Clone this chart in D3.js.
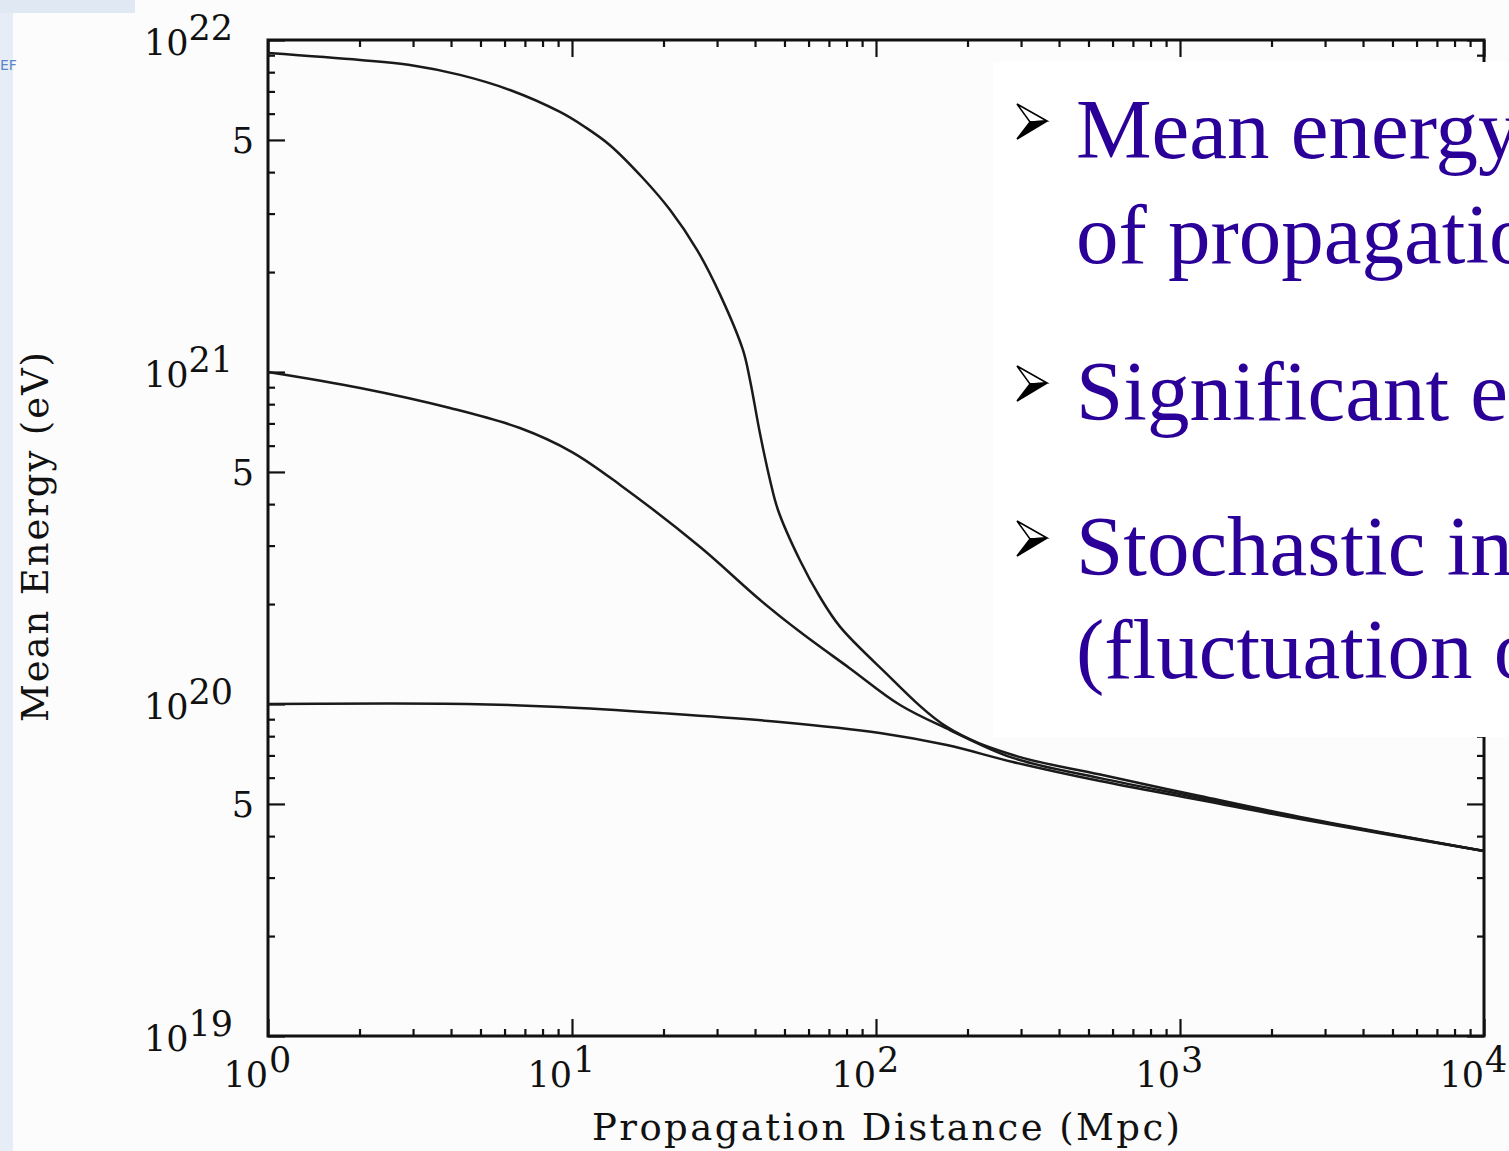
<!DOCTYPE html>
<html>
<head>
<meta charset="utf-8">
<script src="https://cdn.jsdelivr.net/npm/d3@7"></script>
<style>
  body { margin: 0; background: #fcfcfc; }
  svg { display: block; }
</style>
</head>
<body>
<div id="plot"></div>
<script>
// values: propagation distance (Mpc) -> mean energy (eV)
const distTop   = [1, 2.01, 2.93, 4.28, 6.25, 9.13, 11.03, 13.3, 17.1, 21.0, 25.8, 30.7, 36.5, 38.5, 41.5, 44.8, 47.6, 56.2, 65.4, 76.1, 103, 171, 282, 546, 1163, 2481, 10000];
const energyTop = [9.14e21, 8.71e21, 8.41e21, 7.85e21, 7.07e21, 6.07e21, 5.47e21, 4.83e21, 3.84e21, 3.08e21, 2.33e21, 1.71e21, 1.165e21, 9.46e20, 6.55e20, 4.73e20, 3.84e20, 2.71e20, 2.10e20, 1.71e20, 1.29e20, 8.53e19, 7.02e19, 6.13e19, 5.28e19, 4.57e19, 3.61e19];

const distMid   = [1, 2.01, 3.97, 6.74, 10, 14.4, 26.4, 41.5, 56.2, 82.1, 120, 175, 282, 546, 1163, 2481, 10000];
const energyMid = [1.0e21, 8.95e20, 7.79e20, 6.78e20, 5.74e20, 4.57e20, 2.97e20, 2.06e20, 1.65e20, 1.28e20, 9.93e19, 8.35e19, 6.88e19, 5.98e19, 5.21e19, 4.54e19, 3.61e19];

const distLow   = [1, 4.51, 9.13, 19.5, 48.3, 103, 171, 282, 546, 1163, 2481, 10000];
const energyLow = [1.0e20, 1.0e20, 9.79e19, 9.39e19, 8.83e19, 8.18e19, 7.52e19, 6.69e19, 5.86e19, 5.14e19, 4.50e19, 3.61e19];

// axis labels
const xDecades = [1, 10, 100, 1000, 10000];
const xExponents = ["0", "1", "2", "3", "4"];
const yDecades = [1e19, 1e20, 1e21, 1e22];
const yExponents = ["19", "20", "21", "22"];
const yFives = [5e19, 5e20, 5e21];

const xTitle = "Propagation Distance (Mpc)";
const yTitle = "Mean Energy (eV)";

const bullets = [
  ["Mean energy", "of propagation"],
  ["Significant energy"],
  ["Stochastic interactions", "(fluctuation of"]
];

window.addEventListener("load", main);

function main(){
  const width = 1509, height = 1151;
  const left = 268, right = 1484, top = 40, bottom = 1036;

  const svg = d3.select("#plot").append("svg")
    .attr("width", width)
    .attr("height", height);

  // slide leftovers on the left edge
  svg.append("rect").attr("x", 0).attr("y", 0).attr("width", 13).attr("height", height).attr("fill", "#e6edf7");
  svg.append("rect").attr("x", 0).attr("y", 0).attr("width", 135).attr("height", 13).attr("fill", "#e0e8f3");
  svg.append("text").attr("x", 0).attr("y", 70)
    .style("font-family", "DejaVu Sans").style("font-size", "14px")
    .attr("fill", "#5b86c8").text("EF");

  const x = d3.scaleLog().domain([1, 1e4]).range([left, right]);
  const y = d3.scaleLog().domain([1e19, 1e22]).range([bottom, top]);

  const minorX = x.ticks().filter(v => !xDecades.includes(v));
  const minorY = y.ticks().filter(v => !yDecades.includes(v) && !yFives.includes(v));
  const majorY = yDecades.concat(yFives);

  const tickStyle = g => {
    g.select(".domain").remove();
    g.selectAll("line").attr("stroke", "#111").attr("stroke-width", 2.2);
  };

  // inward ticks on all four sides
  svg.append("g").attr("transform", `translate(0,${bottom})`)
    .call(d3.axisBottom(x).tickValues(minorX).tickSize(-7).tickFormat("")).call(tickStyle);
  svg.append("g").attr("transform", `translate(0,${bottom})`)
    .call(d3.axisBottom(x).tickValues(xDecades).tickSize(-17).tickFormat("")).call(tickStyle);
  svg.append("g").attr("transform", `translate(0,${top})`)
    .call(d3.axisTop(x).tickValues(minorX).tickSize(-7).tickFormat("")).call(tickStyle);
  svg.append("g").attr("transform", `translate(0,${top})`)
    .call(d3.axisTop(x).tickValues(xDecades).tickSize(-17).tickFormat("")).call(tickStyle);

  svg.append("g").attr("transform", `translate(${left},0)`)
    .call(d3.axisLeft(y).tickValues(minorY).tickSize(-7).tickFormat("")).call(tickStyle);
  svg.append("g").attr("transform", `translate(${left},0)`)
    .call(d3.axisLeft(y).tickValues(majorY).tickSize(-17).tickFormat("")).call(tickStyle);
  svg.append("g").attr("transform", `translate(${right},0)`)
    .call(d3.axisRight(y).tickValues(minorY).tickSize(-7).tickFormat("")).call(tickStyle);
  svg.append("g").attr("transform", `translate(${right},0)`)
    .call(d3.axisRight(y).tickValues(majorY).tickSize(-17).tickFormat("")).call(tickStyle);

  // frame
  svg.append("rect")
    .attr("x", left).attr("y", top)
    .attr("width", right - left).attr("height", bottom - top)
    .attr("fill", "none").attr("stroke", "#111").attr("stroke-width", 3);

  // curves
  const line = d3.line()
    .x(d => x(d[0]))
    .y(d => y(d[1]))
    .curve(d3.curveCatmullRom.alpha(0.5));

  const series = [
    d3.zip(distTop, energyTop),
    d3.zip(distMid, energyMid),
    d3.zip(distLow, energyLow)
  ];

  svg.append("g").selectAll("path")
    .data(series)
    .join("path")
    .attr("d", line)
    .attr("fill", "none")
    .attr("stroke", "#1a1a1a")
    .attr("stroke-width", 2.5);

  // tick labels
  const numFont = g => g.style("font-family", "DejaVu Serif").style("font-size", "35px").attr("fill", "#111");

  const yl = svg.append("g").call(numFont);
  yDecades.forEach((v, i) => {
    const t = yl.append("text")
      .attr("x", 233).attr("y", y(v) + 15)
      .attr("text-anchor", "end");
    t.append("tspan").text("10");
    t.append("tspan").attr("dy", -15).text(yExponents[i]);
  });
  yl.selectAll(".five")
    .data(yFives)
    .join("text")
    .attr("class", "five")
    .attr("x", 254).attr("y", d => y(d) + 13)
    .attr("text-anchor", "end")
    .text("5");

  const xl = svg.append("g").call(numFont);
  xDecades.forEach((v, i) => {
    xl.append("text").attr("x", x(v)).attr("y", 1087)
      .attr("text-anchor", "end").text("10");
    xl.append("text").attr("x", x(v) + 1).attr("y", 1072)
      .attr("text-anchor", "start").text(xExponents[i]);
  });

  // axis titles
  svg.append("text")
    .attr("x", 886).attr("y", 1140)
    .attr("text-anchor", "middle")
    .attr("textLength", 588)
    .style("font-family", "DejaVu Serif").style("font-size", "37px")
    .attr("fill", "#111")
    .text(xTitle);

  svg.append("text")
    .attr("transform", "translate(48,537) rotate(-90)")
    .attr("text-anchor", "middle")
    .attr("textLength", 370)
    .style("font-family", "DejaVu Serif").style("font-size", "37px")
    .attr("fill", "#111")
    .text(yTitle);

  // slide text box laid over the plot
  svg.append("rect")
    .attr("x", 993).attr("y", 62)
    .attr("width", width - 993).attr("height", 675)
    .attr("fill", "#ffffff");

  const baselines = [[158, 263], [420], [575, 678]];
  const box = svg.append("g");
  bullets.forEach((lines, i) => {
    const b = baselines[i][0] - 37;
    // arrowhead bullet: light upper half, dark lower half
    box.append("path")
      .attr("d", `M1017,${b - 17} L1047,${b} L1030,${b + 1} Z`)
      .attr("fill", "#ffffff").attr("stroke", "#000").attr("stroke-width", 1.5);
    box.append("path")
      .attr("d", `M1030,${b + 1} L1047,${b} L1017,${b + 18} Z`)
      .attr("fill", "#000").attr("stroke", "#000").attr("stroke-width", 1.5);
    lines.forEach((s, j) => {
      box.append("text")
        .attr("x", 1076).attr("y", baselines[i][j])
        .style("font-family", "'Liberation Serif', 'Times New Roman', serif").style("font-size", "85px")
        .attr("fill", "#2b0099")
        .text(s);
    });
  });
}
</script>
</body>
</html>
